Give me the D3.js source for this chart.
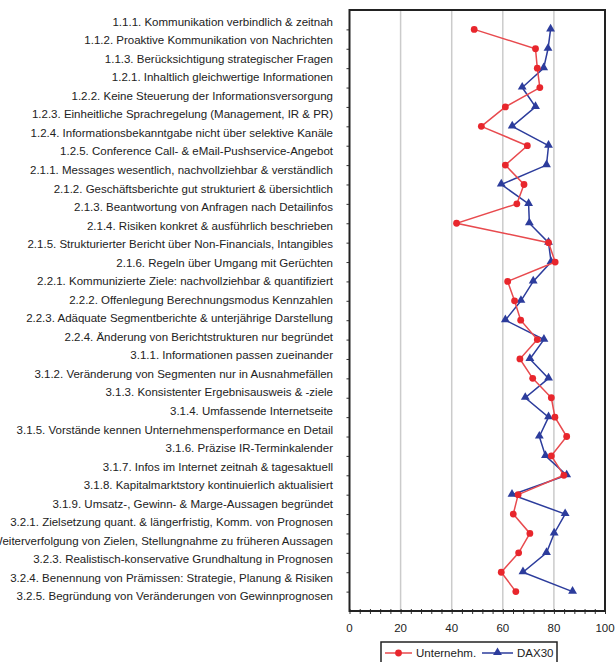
<!DOCTYPE html>
<html>
<head>
<meta charset="utf-8">
<script src="https://cdn.jsdelivr.net/npm/d3@7"></script>
<style>
  body { margin: 0; background: #fff; }
  svg { display: block; font-family: "Liberation Sans", Arial, sans-serif; }
</style>
</head>
<body>
<div id="chart"></div>
<script>
// Kriterien (Textspalte links)
var categories = [
  "1.1.1. Kommunikation verbindlich & zeitnah",
  "1.1.2. Proaktive Kommunikation von Nachrichten",
  "1.1.3. Berücksichtigung strategischer Fragen",
  "1.2.1. Inhaltlich gleichwertige Informationen",
  "1.2.2. Keine Steuerung der Informationsversorgung",
  "1.2.3. Einheitliche Sprachregelung (Management, IR & PR)",
  "1.2.4. Informationsbekanntgabe nicht über selektive Kanäle",
  "1.2.5. Conference Call- & eMail-Pushservice-Angebot",
  "2.1.1. Messages wesentlich, nachvollziehbar & verständlich",
  "2.1.2. Geschäftsberichte gut strukturiert & übersichtlich",
  "2.1.3. Beantwortung von Anfragen nach Detailinfos",
  "2.1.4. Risiken konkret & ausführlich beschrieben",
  "2.1.5. Strukturierter Bericht über Non-Financials, Intangibles",
  "2.1.6. Regeln über Umgang mit Gerüchten",
  "2.2.1. Kommunizierte Ziele: nachvollziehbar & quantifiziert",
  "2.2.2. Offenlegung Berechnungsmodus Kennzahlen",
  "2.2.3. Adäquate Segmentberichte & unterjährige Darstellung",
  "2.2.4. Änderung von Berichtstrukturen nur begründet",
  "3.1.1. Informationen passen zueinander",
  "3.1.2. Veränderung von Segmenten nur in Ausnahmefällen",
  "3.1.3. Konsistenter Ergebnisausweis & -ziele",
  "3.1.4. Umfassende Internetseite",
  "3.1.5. Vorstände kennen Unternehmensperformance en Detail",
  "3.1.6. Präzise IR-Terminkalender",
  "3.1.7. Infos im Internet zeitnah & tagesaktuell",
  "3.1.8. Kapitalmarktstory kontinuierlich aktualisiert",
  "3.1.9. Umsatz-, Gewinn- & Marge-Aussagen begründet",
  "3.2.1. Zielsetzung quant. & längerfristig, Komm. von Prognosen",
  "3.2.2. Weiterverfolgung von Zielen, Stellungnahme zu früheren Aussagen",
  "3.2.3. Realistisch-konservative Grundhaltung in Prognosen",
  "3.2.4. Benennung von Prämissen: Strategie, Planung & Risiken",
  "3.2.5. Begründung von Veränderungen von Gewinnprognosen"
];

// Werte (Reihe 1..30 von oben)
var unternehmen = [48.8, 72.8, 73.5, 74.5, 61.0, 51.6, 69.6,
                   61.0, 68.3, 65.5, 41.9, 77.9, 80.5, 61.9, 64.6,
                   67.0, 73.5, 66.7, 71.7, 79.0, 80.4, 85.0, 79.0,
                   83.9, 66.0, 64.1, 70.6, 66.2, 59.4, 65.1];
var dax30 = [78.7, 77.7, 76.0, 67.6, 72.8, 63.7, 77.9,
             77.1, 59.4, 70.1, 70.4, 77.9, 78.9, 71.9, 67.1,
             61.0, 76.1, 70.6, 77.9, 68.8, 77.9, 74.3, 76.7,
             85.0, 63.6, 84.4, 80.1, 77.1, 67.9, 87.3];

var xTicks = [0, 20, 40, 60, 80, 100];
var seriesNames = ["Unternehm.", "DAX30"];

var W = 615, H = 662;
var plot = {left: 349.5, right: 605, top: 10, bottom: 611};
var red = "#e8262c", redLine = "#e84a4e", blue = "#2c3c9c";

var svg = d3.select("#chart").append("svg")
    .attr("width", W)
    .attr("height", H);

var x = d3.scaleLinear().domain([0, 100]).range([plot.left, plot.right]);
var y = d3.scaleLinear().domain([0, unternehmen.length + 1]).range([plot.top, plot.bottom]);
var yLabel = d3.scalePoint().domain(categories).range([21.7, 596.4]);

// gridlines
svg.append("g")
    .selectAll("line")
    .data(xTicks.slice(1, -1))
    .enter().append("line")
    .attr("x1", function(d) { return x(d); })
    .attr("x2", function(d) { return x(d); })
    .attr("y1", plot.top)
    .attr("y2", plot.bottom)
    .style("stroke", "#cbcbcb")
    .style("stroke-width", 1.5);

// x axis (minor ticks every 4)
var xAxis = svg.append("g")
    .attr("transform", "translate(0," + plot.bottom + ")")
    .call(d3.axisBottom(x).tickValues(d3.range(0, 101, 4)).tickSize(3).tickFormat(""));
xAxis.select(".domain").remove();
xAxis.selectAll("line").attr("y1", -2).style("stroke", "#333");

svg.append("g")
    .selectAll("text")
    .data(xTicks)
    .enter().append("text")
    .attr("x", function(d) { return x(d); })
    .attr("y", 632)
    .style("text-anchor", "middle")
    .style("font-size", "11.5px")
    .style("fill", "#222")
    .text(function(d) { return d; });

// y axis ticks
var yAxis = svg.append("g")
    .attr("transform", "translate(" + plot.left + ",0)")
    .call(d3.axisLeft(y).tickValues(d3.range(1, unternehmen.length + 1)).tickSize(3).tickFormat(""));
yAxis.select(".domain").remove();
yAxis.selectAll("line").style("stroke", "#333");

// frame
svg.append("rect")
    .attr("x", plot.left)
    .attr("y", plot.top)
    .attr("width", plot.right - plot.left)
    .attr("height", plot.bottom - plot.top)
    .style("fill", "none")
    .style("stroke", "#222")
    .style("stroke-width", 2);

// category labels
svg.append("g")
    .selectAll("text")
    .data(categories)
    .enter().append("text")
    .attr("x", 333)
    .attr("y", function(d) { return yLabel(d); })
    .attr("dy", "0.35em")
    .style("text-anchor", "end")
    .style("font-size", "11.5px")
    .style("fill", "#222")
    .text(function(d) { return d; });

var line = d3.line()
    .x(function(d) { return x(d); })
    .y(function(d, i) { return y(i + 1); });

var tri = d3.symbol().type(d3.symbolTriangle).size(34);

// DAX30
svg.append("path")
    .datum(dax30)
    .attr("d", line)
    .style("fill", "none")
    .style("stroke", blue)
    .style("stroke-width", 1.5);
svg.append("g")
    .selectAll("path")
    .data(dax30)
    .enter().append("path")
    .attr("d", tri)
    .attr("transform", function(d, i) { return "translate(" + x(d) + "," + (y(i + 1) - 0.5) + ")"; })
    .style("fill", blue);

// Unternehmen
svg.append("path")
    .datum(unternehmen)
    .attr("d", line)
    .style("fill", "none")
    .style("stroke", redLine)
    .style("stroke-width", 1.5);
svg.append("g")
    .selectAll("circle")
    .data(unternehmen)
    .enter().append("circle")
    .attr("cx", function(d) { return x(d); })
    .attr("cy", function(d, i) { return y(i + 1); })
    .attr("r", 3.4)
    .style("fill", red);

// legend
var legend = svg.append("g");
legend.append("rect")
    .attr("x", 381)
    .attr("y", 642)
    .attr("width", 176)
    .attr("height", 30)
    .style("fill", "#fff")
    .style("stroke", "#222")
    .style("stroke-width", 1.5);

var leg = [
  {name: seriesNames[0], x0: 385, x1: 412, tx: 416, color: redLine, mark: "circle"},
  {name: seriesNames[1], x0: 482, x1: 513, tx: 517, color: blue, mark: "triangle"}
];
leg.forEach(function(l) {
    legend.append("line")
        .attr("x1", l.x0).attr("x2", l.x1)
        .attr("y1", 653).attr("y2", 653)
        .style("stroke", l.color)
        .style("stroke-width", 1.5);
    if (l.mark === "circle") {
        legend.append("circle")
            .attr("cx", (l.x0 + l.x1) / 2).attr("cy", 653).attr("r", 3.4)
            .style("fill", red);
    } else {
        legend.append("path")
            .attr("d", tri)
            .attr("transform", "translate(" + ((l.x0 + l.x1) / 2) + ",652.5)")
            .style("fill", blue);
    }
    legend.append("text")
        .attr("x", l.tx)
        .attr("y", 653)
        .attr("dy", "0.35em")
        .style("font-size", "11.5px")
        .style("fill", "#222")
        .text(l.name);
});
</script>
</body>
</html>
